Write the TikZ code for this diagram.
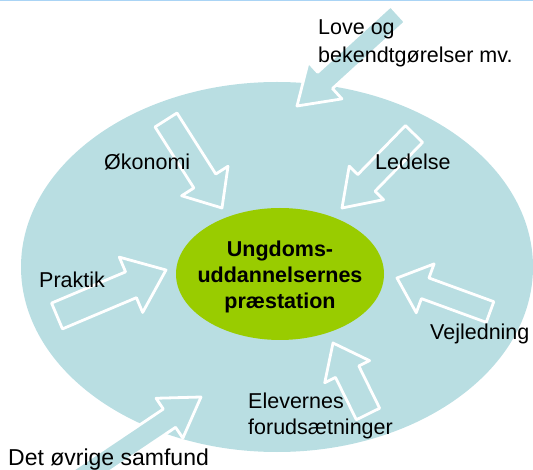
\documentclass[tikz,border=0pt]{standalone}
\usepackage{fontspec}
\setmainfont{Liberation Sans}
\usetikzlibrary{calc,shapes.geometric}
\definecolor{lblue}{RGB}{185,222,226}
\definecolor{lgreen}{RGB}{153,204,0}
\definecolor{topline}{RGB}{170,212,245}
\newcommand{\blockarr}[6]{% name, tail, tip, shaft w, head w, head len
  \coordinate (#1H) at ($(#3)!#6!(#2)$);
  \filldraw[arrbody] ($(#2)!#4/2!90:(#3)$) -- ($(#1H)!#4/2!90:(#3)$)
    -- ($(#1H)!#5/2!90:(#3)$) -- (#3) -- ($(#1H)!#5/2!-90:(#3)$)
    -- ($(#1H)!#4/2!-90:(#3)$) -- ($(#2)!#4/2!-90:(#3)$) -- cycle;}
\tikzset{
  arrbody/.style={fill=lblue, draw=white, line width=2.8pt, line join=round},
  lab/.style={anchor=base west, inner sep=0pt, font=\fontsize{21.5}{26}\selectfont},
}
\begin{document}
\begin{tikzpicture}[x=1pt,y=-1pt]
\useasboundingbox (0,0) rectangle (533,470);
\clip (0,0) rectangle (533,470);
\draw[topline, line width=1.5pt] (0,0.75) -- (533,0.75);
\node[ellipse, fill=lblue, minimum width=512pt, minimum height=370pt, inner sep=0pt] (outer) at (277,267) {};
% arrows
\coordinate (loveT) at (398,14);   \coordinate (loveP) at (297,106);
\coordinate (okoT) at (166,120);   \coordinate (okoP) at (222,208);
\coordinate (ledT) at (414,134);   \coordinate (ledP) at (342,208);
\coordinate (prakT) at (57,316);   \coordinate (prakP) at (166,270);
\coordinate (vejT) at (490,312);   \coordinate (vejP) at (397,278);
\coordinate (eleT) at (368,414);   \coordinate (eleP) at (333,343);
\coordinate (detT) at (70,485);    \coordinate (detP) at (201,397);
\blockarr{love}{loveT}{loveP}{22pt}{50pt}{38pt}
\blockarr{oko}{okoT}{okoP}{26pt}{55pt}{32pt}
\blockarr{led}{ledT}{ledP}{24pt}{48pt}{35pt}
\blockarr{prak}{prakT}{prakP}{28pt}{60pt}{38pt}
\blockarr{vej}{vejT}{vejP}{22pt}{52pt}{30pt}
\blockarr{ele}{eleT}{eleP}{26pt}{50pt}{32pt}
\blockarr{det}{detT}{detP}{22pt}{48pt}{38pt}
% centre
\node[ellipse, fill=lgreen, minimum width=208pt, minimum height=132pt, inner sep=0pt] (inner) at (280,274) {};
\node[align=center, inner sep=0pt, font=\bfseries\fontsize{21.5}{26}\selectfont] (innertext) at (280,277) {Ungdoms-\\uddannelsernes\\præstation};
% labels
\node[lab] (love1) at (318,35) {Love og};
\node[lab] (love2) at (318,63) {bekendtgørelser mv.};
\node[lab] (oko) at (104,170) {Økonomi};
\node[lab] (led) at (375,170) {Ledelse};
\node[lab] (prak) at (39,288) {Praktik};
\node[lab] (vej) at (430,340) {Vejledning};
\node[lab] (ele1) at (248,408) {Elevernes};
\node[lab] (ele2) at (248,434) {forudsætninger};
\node[lab, font=\fontsize{23}{27}\selectfont] (det) at (8,465) {Det øvrige samfund};
\end{tikzpicture}
\end{document}
